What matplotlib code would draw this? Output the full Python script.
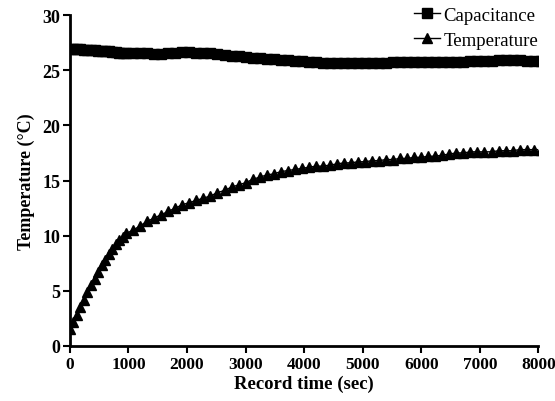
import numpy as np
import matplotlib
matplotlib.use('Agg')
import matplotlib.pyplot as plt

# sample times (sec): every minute during warm-up, then every 2 min
time_sec = np.concatenate([np.arange(0, 961, 60), np.arange(1080, 8041, 120)])

capacitance = [26.9, 26.9, 26.9, 26.9, 26.85, 26.85, 26.8, 26.8, 26.75, 26.75,
               26.7, 26.7, 26.65, 26.65, 26.6, 26.6, 26.6,
               26.55, 26.55, 26.55, 26.5, 26.5, 26.55, 26.6, 26.65, 26.65, 26.6,
               26.6, 26.55, 26.5, 26.4, 26.3, 26.25, 26.2, 26.15, 26.1, 26.05,
               26.0, 25.95, 25.9, 25.85, 25.8, 25.75, 25.75, 25.7, 25.7, 25.65,
               25.65, 25.65, 25.65, 25.65, 25.7, 25.7, 25.7, 25.75, 25.75, 25.75,
               25.75, 25.75, 25.75, 25.75, 25.75, 25.75, 25.75, 25.75, 25.8, 25.8,
               25.8, 25.85, 25.9, 25.95, 25.95, 25.9, 25.85, 25.85, 25.85]

temperature = [1.5, 2.2, 2.8, 3.5, 4.2, 4.9, 5.5, 6.1, 6.7, 7.3,
               7.8, 8.3, 8.8, 9.2, 9.6, 9.9, 10.2,
               10.5, 10.9, 11.3, 11.6, 11.9, 12.2, 12.5, 12.8, 13.0, 13.2,
               13.4, 13.6, 13.9, 14.1, 14.4, 14.6, 14.8, 15.1, 15.3, 15.5,
               15.6, 15.8, 15.9, 16.0, 16.1, 16.2, 16.3, 16.3, 16.4, 16.5,
               16.6, 16.6, 16.7, 16.7, 16.8, 16.8, 16.9, 16.9, 17.0, 17.0,
               17.1, 17.1, 17.2, 17.2, 17.3, 17.4, 17.5, 17.5, 17.6, 17.6,
               17.6, 17.6, 17.7, 17.7, 17.7, 17.8, 17.8, 17.8, 17.8]

x_ticks = [0, 1000, 2000, 3000, 4000, 5000, 6000, 7000, 8000]
y_ticks = [0, 5, 10, 15, 20, 25, 30]

plt.rcParams['font.family'] = ['Liberation Serif', 'DejaVu Serif']

fig = plt.figure(figsize=(5.55, 4.02), dpi=100)
ax = fig.add_axes([0.126, 0.137, 0.844, 0.823])

ax.plot(time_sec, capacitance, color='black', marker='s', markersize=7.5,
        linewidth=1, label='Capacitance')
ax.plot(time_sec, temperature, color='black', marker='^', markersize=7.5,
        linewidth=1, label='Temperature')

ax.set_xlim(0, 8000)
ax.set_ylim(0, 30)
ax.set_xticks(x_ticks)
ax.set_yticks(y_ticks)
ax.set_xticklabels([str(t) for t in x_ticks], fontsize=12.5, fontweight='bold')
ax.set_yticklabels([str(t) for t in y_ticks], fontsize=13, fontweight='bold')
ax.tick_params(direction='out', length=5, width=1.5, pad=2)

for side in ['top', 'right']:
    ax.spines[side].set_visible(False)
for side in ['left', 'bottom']:
    ax.spines[side].set_linewidth(2)

ax.set_xlabel('Record time (sec)', fontsize=13.5, fontweight='bold', labelpad=2)
ax.set_ylabel('Temperature (\u00b0C)', fontsize=13, fontweight='bold', labelpad=5)

ax.legend(loc='upper right', bbox_to_anchor=(1.0, 1.025), frameon=False,
          fontsize=13.5, handlelength=1.4, handletextpad=0.2,
          labelspacing=0.4, borderaxespad=0, borderpad=0)

fig.savefig('out.png', dpi=100)
